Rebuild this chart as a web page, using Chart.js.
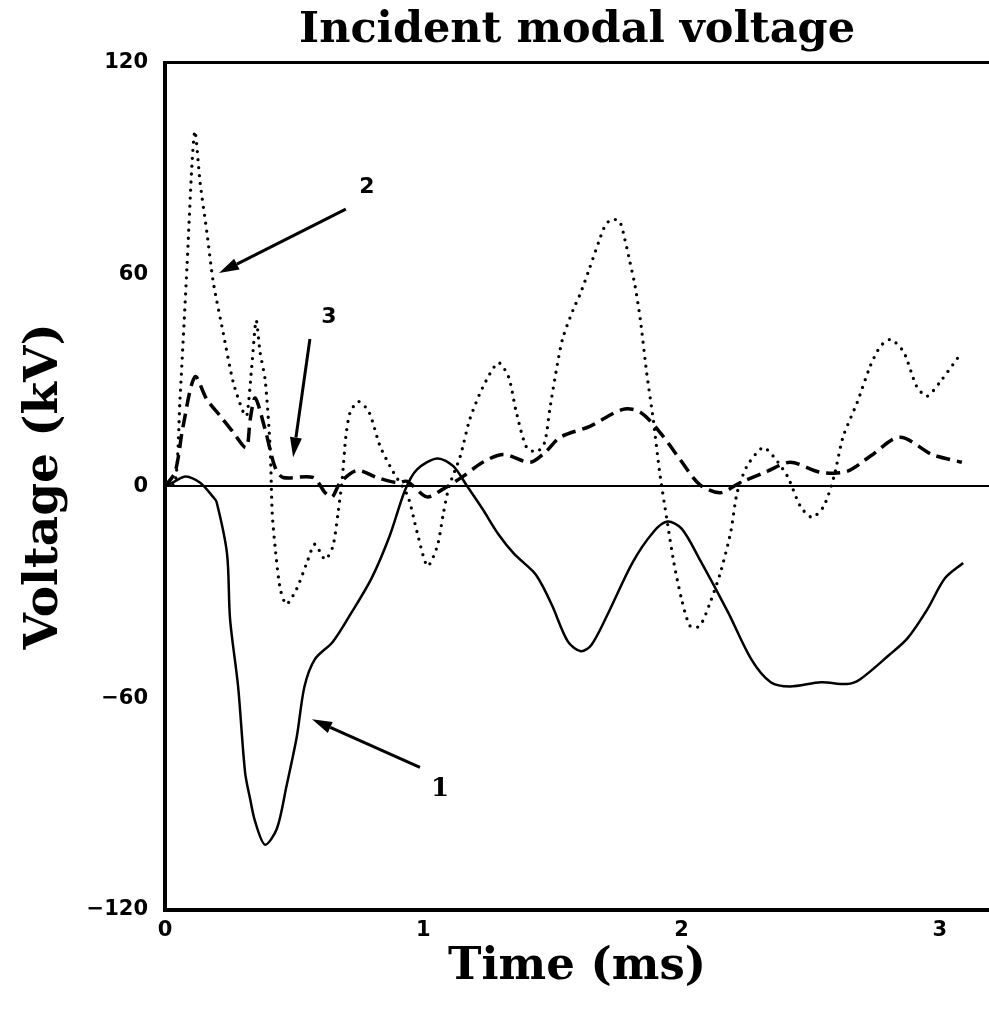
<!DOCTYPE html>
<html lang="en">
<head>
    <meta charset="UTF-8">
    <title>Incident modal voltage</title>
    <script src="https://cdn.jsdelivr.net/npm/chart.js"></script>
    <style>
        body {
            margin: 0;
            padding: 0;
            background-color: #fff;
        }
        .chart-container {
            width: 989px;
            height: 1018px;
            position: relative;
        }
    </style>
</head>
<body>
    <div class="chart-container">
        <canvas id="voltChart"></canvas>
    </div>

    <script>
        // data: time in ms, voltage in kV
        const timeMode1 = [0, 0.04, 0.08, 0.136, 0.186, 0.2, 0.24, 0.252, 0.283, 0.31, 0.33, 0.349, 0.387, 0.433, 0.47, 0.51, 0.54, 0.58, 0.65, 0.72, 0.80, 0.87, 0.93, 0.976, 1.054, 1.116, 1.17, 1.23, 1.29, 1.35, 1.43, 1.46, 1.50, 1.56, 1.61, 1.65, 1.71, 1.81, 1.89, 1.945, 2.00, 2.07, 2.18, 2.27, 2.345, 2.42, 2.54, 2.64, 2.69, 2.80, 2.875, 2.95, 3.02, 3.09];
        const voltMode1 = [0, 1.5, 2.8, 1, -3, -4.5, -19, -37.7, -56.7, -81, -88.7, -95, -101.5, -97, -85, -71, -56.7, -49, -44, -36, -26, -14, -1, 4.8, 7.9, 5.7, 0, -6.5, -13.5, -19, -24.5, -28, -34, -44, -46.7, -45, -36.8, -21.6, -13, -10, -12, -20.7, -35.7, -49, -55.5, -56.7, -55.5, -56, -54.7, -48, -43, -35, -26, -21.7];

        const timeMode2 = [0, 0.039, 0.058, 0.085, 0.104, 0.116, 0.136, 0.162, 0.187, 0.225, 0.264, 0.303, 0.317, 0.336, 0.353, 0.368, 0.388, 0.407, 0.415, 0.426, 0.446, 0.47, 0.51, 0.55, 0.58, 0.62, 0.65, 0.67, 0.686, 0.70, 0.717, 0.75, 0.79, 0.833, 0.884, 0.94, 0.976, 1.016, 1.054, 1.078, 1.10, 1.143, 1.18, 1.23, 1.29, 1.33, 1.36, 1.40, 1.44, 1.47, 1.49, 1.52, 1.54, 1.58, 1.607, 1.64, 1.68, 1.705, 1.73, 1.76, 1.78, 1.80, 1.82, 1.84, 1.865, 1.89, 1.915, 1.943, 1.97, 2.00, 2.033, 2.07, 2.11, 2.15, 2.19, 2.215, 2.253, 2.315, 2.355, 2.41, 2.46, 2.505, 2.55, 2.59, 2.625, 2.68, 2.73, 2.77, 2.81, 2.86, 2.91, 2.95, 3.00, 3.085];
        const voltMode2 = [0, 1, 24.6, 62, 90.7, 100.6, 86, 72, 57.8, 43.6, 29.5, 21, 20, 34, 47, 38, 30, 11, -7.5, -17, -29, -33.4, -29, -21.5, -16.4, -20.7, -17, -7.5, 2, 14, 21, 24, 21, 11.3, 4, -2.8, -13, -22.6, -17, -7.5, 0, 8.5, 19, 28, 35, 31, 21, 11, 9.8, 12.5, 22, 35, 42, 50, 54.4, 61, 69.4, 74, 75.6, 75, 70, 63.5, 56.7, 47.3, 32, 19, 4, -9.4, -21.6, -32, -39.6, -39.6, -33, -24.5, -13, -1.8, 5.7, 11, 8.5, 2.8, -5.7, -8.8, -5.7, 2.8, 14, 23.8, 34, 39.7, 41.6, 38, 28.3, 25.5, 29.5, 38];

        const timeMode3 = [0, 0.039, 0.07, 0.116, 0.162, 0.213, 0.264, 0.314, 0.33, 0.349, 0.388, 0.426, 0.457, 0.573, 0.62, 0.647, 0.678, 0.744, 0.82, 0.90, 0.937, 1.014, 1.076, 1.154, 1.23, 1.31, 1.413, 1.47, 1.53, 1.645, 1.773, 1.84, 1.916, 1.994, 2.07, 2.15, 2.226, 2.33, 2.42, 2.536, 2.64, 2.73, 2.845, 2.97, 3.085];
        const voltMode3 = [0, 4, 17, 31, 24.6, 20, 15.3, 11, 19, 25, 16, 5.4, 2.5, 2.5, -1.8, -3, 1, 4.5, 2.5, 1, 1.4, -3, -0.8, 2.8, 6.8, 9, 6.8, 9.5, 13.9, 17, 21.8, 21, 15.3, 7.6, 0.5, -1.8, 1, 4.2, 6.8, 4, 4.2, 8.5, 13.9, 9, 6.8];

        const xTicks = [0, 1, 2, 3];
        const yTicks = [-120, -60, 0, 60, 120];

        // curve labels: text, label position, arrow tail, arrow tip (data coords)
        const noteText = ['1', '2', '3'];
        const noteLabel = [[1.065, -85.9], [0.782, 84.7], [0.635, 47.9]];
        const noteTail = [[0.987, -79.6], [0.70, 78.5], [0.561, 41.7]];
        const noteTip = [[0.569, -66.0], [0.209, 60.4], [0.496, 8.2]];

        function toPoints(xs, ys) {
            return xs.map((x, i) => ({ x: x, y: ys[i] }));
        }

        // arrows and curve numbers
        const curveNotes = {
            id: 'curveNotes',
            afterDatasetsDraw(chart) {
                const ctx = chart.ctx;
                const xs = chart.scales.x;
                const ys = chart.scales.y;
                ctx.save();
                noteText.forEach((txt, i) => {
                    const x0 = xs.getPixelForValue(noteTail[i][0]);
                    const y0 = ys.getPixelForValue(noteTail[i][1]);
                    const x1 = xs.getPixelForValue(noteTip[i][0]);
                    const y1 = ys.getPixelForValue(noteTip[i][1]);
                    const ang = Math.atan2(y1 - y0, x1 - x0);
                    const headLen = 20, headW = 6;
                    const bx = x1 - headLen * Math.cos(ang);
                    const by = y1 - headLen * Math.sin(ang);
                    ctx.strokeStyle = '#000';
                    ctx.fillStyle = '#000';
                    ctx.lineWidth = 3;
                    ctx.beginPath();
                    ctx.moveTo(x0, y0);
                    ctx.lineTo(bx, by);
                    ctx.stroke();
                    ctx.beginPath();
                    ctx.moveTo(x1, y1);
                    ctx.lineTo(bx + headW * Math.sin(ang), by - headW * Math.cos(ang));
                    ctx.lineTo(bx - headW * Math.sin(ang), by + headW * Math.cos(ang));
                    ctx.closePath();
                    ctx.fill();

                    ctx.font = txt === '1' ? 'bold 26px "DejaVu Serif"' : 'bold 22px "DejaVu Sans"';
                    ctx.textAlign = 'center';
                    ctx.textBaseline = 'middle';
                    ctx.fillText(txt, xs.getPixelForValue(noteLabel[i][0]), ys.getPixelForValue(noteLabel[i][1]));
                });
                ctx.restore();
            }
        };

        const config = {
            type: 'line',
            data: {
                datasets: [
                    {
                        label: '1',
                        data: toPoints(timeMode1, voltMode1),
                        borderColor: '#000',
                        borderWidth: 2.5,
                        pointRadius: 0,
                        tension: 0.3
                    },
                    {
                        label: '2',
                        data: toPoints(timeMode2, voltMode2),
                        borderColor: '#000',
                        borderWidth: 3.3,
                        borderDash: [0, 8],
                        borderCapStyle: 'round',
                        pointRadius: 0,
                        tension: 0.25
                    },
                    {
                        label: '3',
                        data: toPoints(timeMode3, voltMode3),
                        borderColor: '#000',
                        borderWidth: 3.5,
                        borderDash: [14, 7],
                        pointRadius: 0,
                        tension: 0.3
                    }
                ]
            },
            options: {
                responsive: true,
                maintainAspectRatio: false,
                animation: false,
                layout: { padding: 0 },
                scales: {
                    x: {
                        type: 'linear',
                        position: 'bottom',
                        min: 0,
                        max: 3.19,
                        afterBuildTicks: s => { s.ticks = xTicks.map(v => ({ value: v })); },
                        afterFit: s => { s.height = 108; },
                        grid: { drawOnChartArea: false, drawTicks: false },
                        border: { color: '#000', width: 4 },
                        ticks: {
                            color: '#000',
                            padding: 8,
                            font: { family: 'DejaVu Sans', weight: 'bold', size: 21 }
                        },
                        title: {
                            display: true,
                            text: 'Time (ms)',
                            color: '#000',
                            padding: { top: 0, bottom: 24 },
                            font: { family: 'DejaVu Serif', weight: 'bold', size: 45, lineHeight: 1.2 }
                        }
                    },
                    xTop: {
                        type: 'linear',
                        position: 'top',
                        min: 0,
                        max: 3.19,
                        afterFit: s => { s.height = 0; },
                        grid: { drawOnChartArea: false, drawTicks: false },
                        border: { color: '#000', width: 3 },
                        ticks: { display: false }
                    },
                    y: {
                        min: -120,
                        max: 120,
                        afterBuildTicks: s => { s.ticks = yTicks.map(v => ({ value: v })); },
                        afterFit: s => { s.width = 165; },
                        grid: {
                            drawTicks: false,
                            lineWidth: 2,
                            color: c => (c.tick && c.tick.value === 0) ? '#000' : 'rgba(0,0,0,0)'
                        },
                        border: { color: '#000', width: 4 },
                        ticks: {
                            color: '#000',
                            padding: 17,
                            font: { family: 'DejaVu Sans', weight: 'bold', size: 21 },
                            callback: v => v < 0 ? '\u2212' + Math.abs(v) : String(v)
                        },
                        title: {
                            display: true,
                            text: 'Voltage (kV)',
                            color: '#000',
                            padding: { top: 17, bottom: 0 },
                            font: { family: 'DejaVu Serif', weight: 'bold', size: 47, lineHeight: 1.2 }
                        }
                    }
                },
                plugins: {
                    legend: { display: false },
                    tooltip: { enabled: false },
                    title: {
                        display: true,
                        text: 'Incident modal voltage',
                        color: '#000',
                        fullSize: false,
                        padding: { top: 5, bottom: 6 },
                        font: { family: 'DejaVu Serif', weight: 'bold', size: 43, lineHeight: 1.2 }
                    }
                }
            },
            plugins: [curveNotes]
        };

        new Chart(document.getElementById('voltChart').getContext('2d'), config);
    </script>
</body>
</html>
